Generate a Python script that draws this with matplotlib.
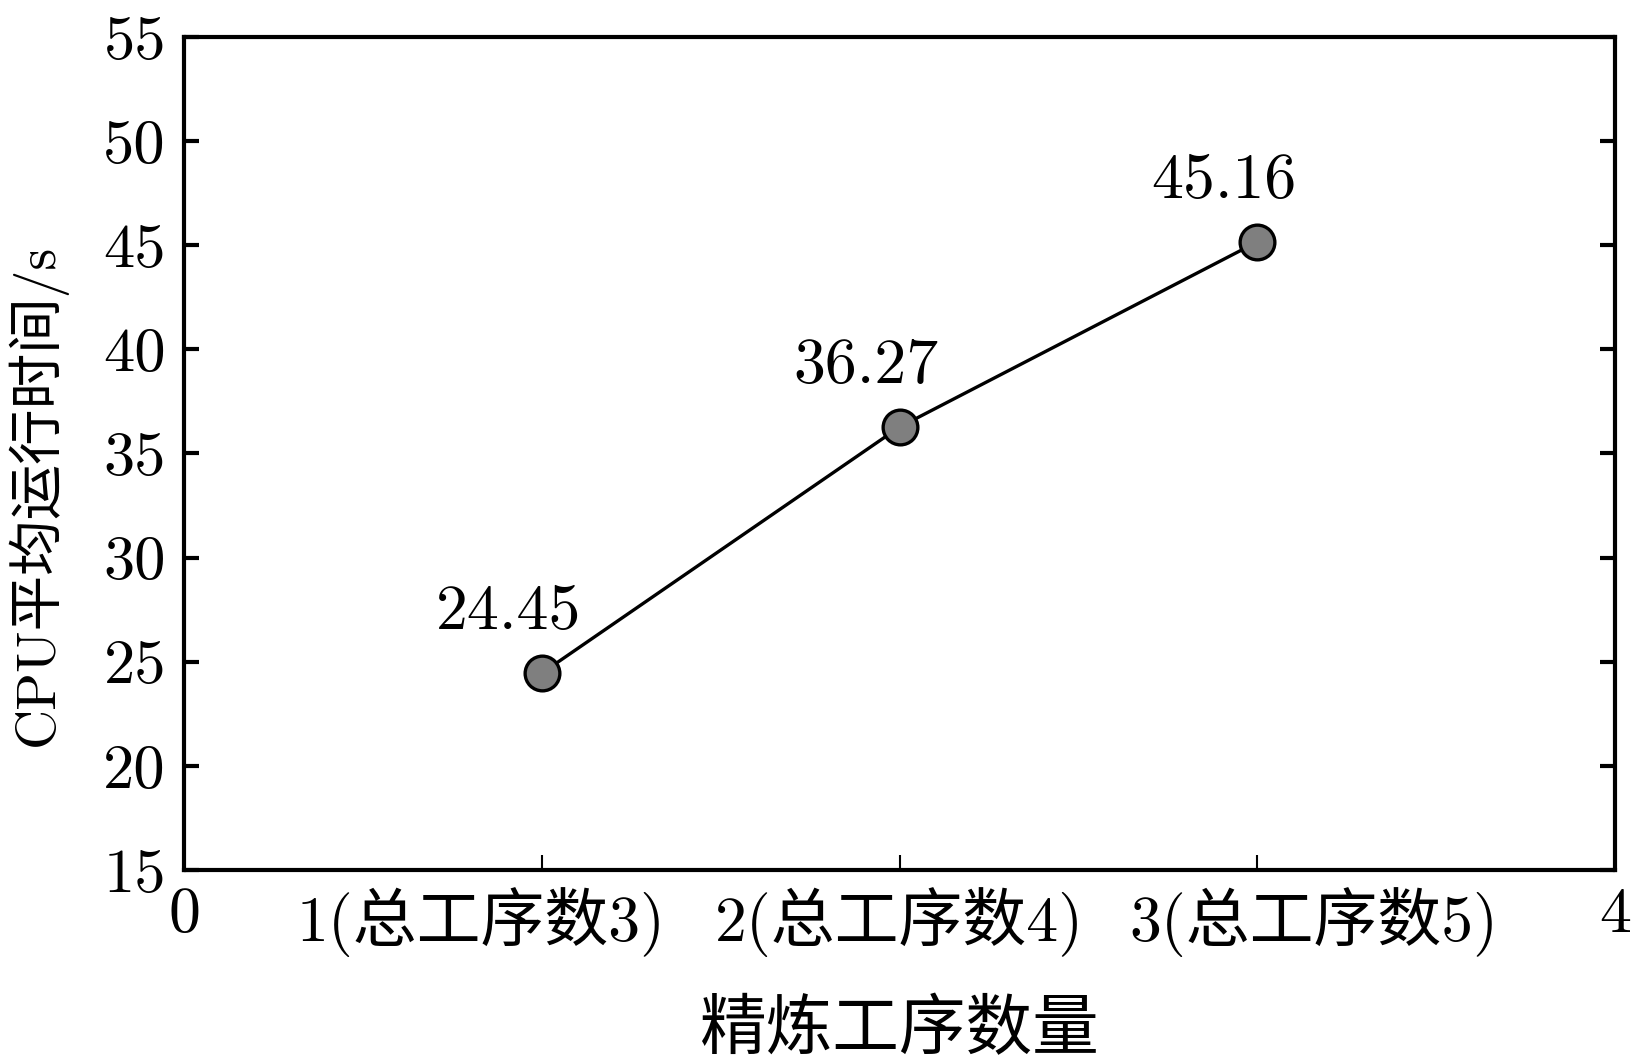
import matplotlib
matplotlib.use("Agg")
import matplotlib.pyplot as plt
import matplotlib.transforms as mtransforms

plt.rcParams['font.family'] = ['cmr10', 'Noto Sans CJK SC', 'DejaVu Sans']
plt.rcParams['axes.unicode_minus'] = False

x_values = [1, 2, 3]
cpu_times = [24.45, 36.27, 45.16]
x_tick_positions = [0, 1, 2, 3, 4]
x_tick_labels = ['0', '1(总工序数3)', '2(总工序数4)', '3(总工序数5)', '4']
y_ticks = [15, 20, 25, 30, 35, 40, 45, 50, 55]
x_label = '精炼工序数量'
y_label = 'CPU平均运行时间/s'

fig = plt.figure(figsize=(16.32, 10.63), dpi=100)
ax = fig.add_axes([184/1632, 1 - 870/1063, (1615-184)/1632, (870-37)/1063])

ax.plot(x_values, cpu_times, color='black', linewidth=2.4, marker='o',
        markersize=25, markerfacecolor='#7f7f7f', markeredgecolor='black',
        markeredgewidth=2.4, zorder=3)

for xv, yv in zip(x_values, cpu_times):
    ax.annotate(f'{yv:.2f}', (xv, yv), textcoords='offset points',
                xytext=(-24, 43), ha='center', va='center', fontsize=46)

ax.set_xlim(0, 4)
ax.set_ylim(15, 55)
ax.set_xticks(x_tick_positions)
ax.set_xticklabels(x_tick_labels)
ax.set_yticks(y_ticks)

for s in ax.spines.values():
    s.set_linewidth(3)

ax.tick_params(axis='y', direction='in', length=11, width=3, labelsize=45,
               left=True, right=True, pad=13)
ax.tick_params(axis='x', direction='in', length=11, width=1.5, labelsize=46,
               bottom=True, top=False, pad=12)

# label shifts as in the original layout (first left, last right)
shifts_pt = [0, -44, 0, 41, 0]
for lab, dx in zip(ax.get_xticklabels(), shifts_pt):
    if dx:
        lab.set_transform(lab.get_transform() +
                          mtransforms.ScaledTranslation(dx / 72, 0, fig.dpi_scale_trans))

ax.set_xlabel(x_label, fontsize=48, labelpad=31)
ax.set_ylabel(y_label, fontsize=40)
ax.yaxis.set_label_coords(-0.082, 0.45)

fig.savefig('out.png', dpi=100)
